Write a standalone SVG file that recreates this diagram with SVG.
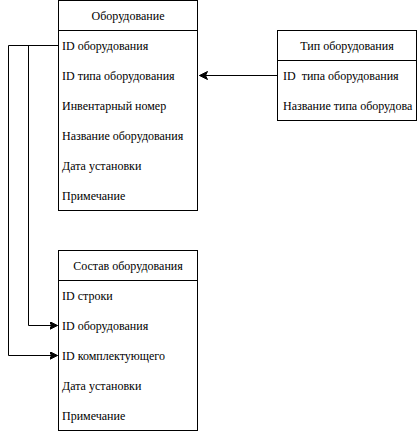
<svg xmlns="http://www.w3.org/2000/svg" width="418" height="431" viewBox="0 0 418 431">
<style>
.box{fill:#fff;stroke:#000;stroke-width:1}
.t{font-family:"Liberation Serif","Times New Roman",serif;font-size:12px;fill:#000;white-space:pre}
.h{text-anchor:middle}
.c{fill:none;stroke:#000;stroke-width:1}
</style>
<defs>
<marker id="ar" markerWidth="10" markerHeight="10" refX="8" refY="4" orient="auto" markerUnits="userSpaceOnUse">
<path d="M0,0 L8,4 L0,8 L2,4 Z" fill="#000" stroke="#000" stroke-width="1"/>
</marker>
</defs>
<rect width="418" height="431" fill="#fff"/>
<g id="connectors">
<path class="c" d="M277.5,75.5 H199.5" marker-end="url(#ar)"/>
<path class="c" d="M58.5,45.5 H28.5 V325.5 H57.5" marker-end="url(#ar)"/>
<path class="c" d="M58.5,45.5 H8.5 V355.5 H57.5" marker-end="url(#ar)"/>
</g>
<g id="equipment">
<rect class="box" x="58.5" y="0.5" width="139" height="210"/>
<line class="c" x1="58.5" y1="30.5" x2="197.5" y2="30.5"/>
<text class="t h" x="128" y="20">Оборудование</text>
<text class="t" x="62" y="50">ID оборудования</text>
<text class="t" x="62" y="80">ID типа оборудования</text>
<text class="t" x="62" y="110">Инвентарный номер</text>
<text class="t" x="62" y="140">Название оборудования</text>
<text class="t" x="62" y="170">Дата установки</text>
<text class="t" x="62" y="200">Примечание</text>
</g>
<g id="equipment-type">
<rect class="box" x="277.5" y="30.5" width="139" height="90"/>
<line class="c" x1="277.5" y1="60.5" x2="416.5" y2="60.5"/>
<text class="t h" x="347" y="50">Тип оборудования</text>
<text class="t" x="283" y="80">ID  типа оборудования</text>
<text class="t" x="283" y="110">Название типа оборудова</text>
</g>
<g id="equipment-composition">
<rect class="box" x="58.5" y="250.5" width="139" height="180"/>
<line class="c" x1="58.5" y1="280.5" x2="197.5" y2="280.5"/>
<text class="t h" x="128" y="270">Состав оборудования</text>
<text class="t" x="62" y="300">ID строки</text>
<text class="t" x="62" y="330">ID оборудования</text>
<text class="t" x="62" y="360">ID комплектующего</text>
<text class="t" x="62" y="390">Дата установки</text>
<text class="t" x="62" y="420">Примечание</text>
</g>
</svg>
